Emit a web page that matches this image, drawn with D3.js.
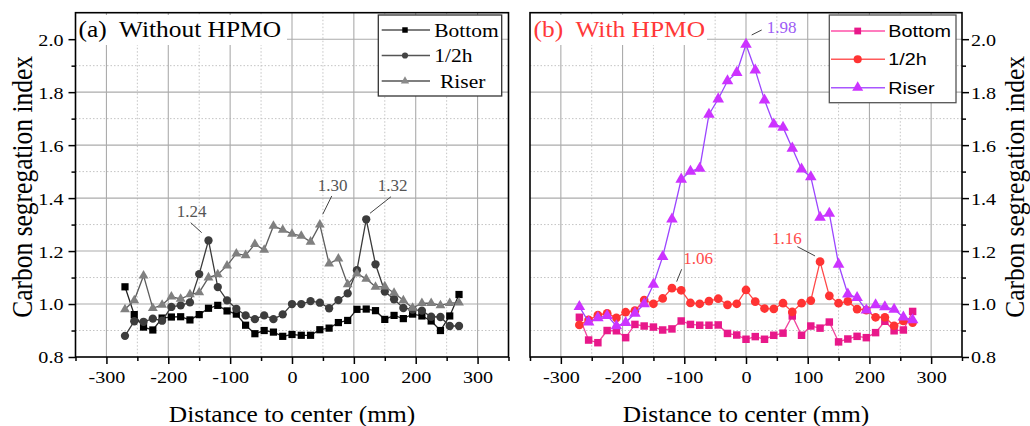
<!DOCTYPE html>
<html>
<head>
<meta charset="utf-8">
<script src="https://cdn.jsdelivr.net/npm/d3@7"></script>
<style>
  body { margin: 0; background: #fff; }
  svg { display: block; }
</style>
</head>
<body>
<svg id="chart" width="1030" height="426"></svg>
<script>
// Measurement positions across the ingot (mm from the centre line)
const distance = [-270,-255,-240,-225,-210,-195,-180,-165,-150,-135,-120,-105,-90,-75,-60,-45,-30,-15,
                  0,15,30,45,60,75,90,105,120,135,150,165,180,195,210,225,240,255,270];

// (a) Without HPMO
const bottomA = [1.065,0.960,0.913,0.902,0.947,0.951,0.952,0.940,0.960,0.984,0.995,0.974,0.962,0.920,0.888,0.900,0.894,0.878,
                 0.885,0.882,0.882,0.903,0.909,0.930,0.938,0.980,0.981,0.975,0.942,0.957,0.945,0.962,0.955,0.936,0.900,0.955,1.036];
const halfA   = [0.880,0.935,0.933,0.945,0.937,0.989,0.995,1.006,1.113,1.240,1.064,1.014,0.982,0.957,0.943,0.957,0.943,0.961,
                 1.000,1.000,1.011,1.005,0.984,1.015,1.040,1.128,1.320,1.150,1.047,1.018,0.985,0.979,0.975,0.952,0.951,0.917,0.917];
const riserA  = [0.980,1.014,1.107,0.984,0.997,1.028,1.019,1.036,1.044,1.100,1.112,1.145,1.190,1.184,1.226,1.204,1.295,1.280,
                 1.265,1.257,1.235,1.300,1.152,1.171,1.074,1.115,1.095,1.065,1.066,1.042,1.014,0.985,1.003,1.003,0.995,1.003,1.005];

// (b) With HPMO
const bottomB = [0.950,0.864,0.854,0.900,0.899,0.873,0.923,0.917,0.913,0.902,0.906,0.936,0.923,0.920,0.920,0.921,0.889,0.883,
                 0.867,0.877,0.867,0.882,0.890,0.955,0.882,0.917,0.909,0.932,0.857,0.868,0.878,0.873,0.892,0.935,0.899,0.902,0.972];
const halfB   = [0.921,0.940,0.958,0.965,0.948,0.969,0.975,1.015,1.001,1.021,1.060,1.052,1.004,1.001,1.011,1.020,0.997,1.001,
                 1.053,1.009,0.983,0.982,1.003,0.970,1.003,1.013,1.160,1.031,1.003,1.010,0.981,0.977,0.950,0.950,0.918,0.936,0.930];
const riserB  = [0.990,0.932,0.948,0.956,0.917,0.930,0.965,1.000,1.074,1.179,1.320,1.471,1.501,1.512,1.716,1.774,1.842,1.874,
                 1.980,1.883,1.770,1.679,1.667,1.588,1.509,1.480,1.327,1.342,1.150,1.037,1.024,0.977,0.997,0.989,0.980,0.950,0.940];

const seriesNames = ["Bottom", "1/2h", "Riser"];
const xTicks = [-300,-200,-100,0,100,200,300];
const xMinor = [-350,-250,-150,-50,50,150,250,350];
const yTicks = [0.8,1.0,1.2,1.4,1.6,1.8,2.0];
const yMinor = [0.9,1.1,1.3,1.5,1.7,1.9];

const SERIF = "'Liberation Serif','Times New Roman',Times,serif";
const SANS = "'Liberation Sans',Arial,Helvetica,sans-serif";
const SX = 1.13;          // horizontal glyph widening used throughout the figure
const TOP = 12.7, BASE = 357;

const svg = d3.select("#chart");

const panels = [
  {
    x0: 75.5, x1: 508.5, axisSide: "left",
    title: "(a)  Without HPMO", titleColor: "#000", titleBox: [76, 287],
    series: [
      { name: seriesNames[0], values: bottomA, symbol: d3.symbolSquare,   size: 52, fill: "#000000", line: "#222222" },
      { name: seriesNames[1], values: halfA,   symbol: d3.symbolCircle,   size: 54, fill: "#3c3c3c", line: "#3a3a3a" },
      { name: seriesNames[2], values: riserA,  symbol: d3.symbolTriangle, size: 42, fill: "#808080", line: "#5e5e5e" }
    ],
    legend: { box: [378.3, 15, 123.4, 81], rows: [30, 55.5, 81], base: [36.7, 62.3, 88.3],
              lineX: [381.7, 430], markX: 405, textX: [434.3, 434.3, 440],
              font: SERIF, size: 19, sx: SX, stroke: "#333", lineColors: ["#555","#555","#555"],
              marks: [{s: d3.symbolSquare, a: 30, f: "#000"}, {s: d3.symbolCircle, a: 30, f: "#444"}, {s: d3.symbolTriangle, a: 30, f: "#8a8a8a"}] },
    notes: [
      { s: 1, i: 9,  label: "1.24", color: "#555", tx: -16.8, ty: -23.5, l: [-6.8, -7.8, -17.8, -17.8] },
      { s: 2, i: 21, label: "1.30", color: "#555", tx: 12.9,  ty: -33.6, l: [2.9, -10.3, 11.9, -28.6] },
      { s: 1, i: 26, label: "1.32", color: "#555", tx: 26.5,  ty: -28.3, l: [3.8, -6, 24.8, -22.6] }
    ]
  },
  {
    x0: 530, x1: 962, axisSide: "right",
    title: "(b)  With HPMO", titleColor: "#ff3838", titleBox: [531, 707],
    series: [
      { name: seriesNames[0], values: bottomB, symbol: d3.symbolSquare,   size: 56, fill: "#e8188a", line: "#f0449e" },
      { name: seriesNames[1], values: halfB,   symbol: d3.symbolCircle,   size: 60, fill: "#ff3333", line: "#ff4848" },
      { name: seriesNames[2], values: riserB,  symbol: d3.symbolTriangle, size: 58, fill: "#cc33ff", line: "#9b45ff" }
    ],
    legend: { box: [829.3, 15, 126.7, 87.7], rows: [31, 59.3, 87.7], base: [36.9, 65, 93.5],
              lineX: [831, 885], markX: 857.7, textX: [888.3, 888.3, 888.3],
              font: SANS, size: 16.5, sx: 1.2, stroke: "#555", lineColors: ["#ff50a8","#ff5a5a","#a957ff"],
              marks: [{s: d3.symbolSquare, a: 46, f: "#e8188a"}, {s: d3.symbolCircle, a: 52, f: "#ff3333"}, {s: d3.symbolTriangle, a: 52, f: "#cc33ff"}] },
    notes: [
      { s: 2, i: 18, label: "1.98", color: "#9d5cf5", tx: 35.7,  ty: -11.5, l: [5.7, -9.5, 15.7, -14.5] },
      { s: 1, i: 10, label: "1.06", color: "#ff4a4a", tx: 26.3,  ty: -24.2, l: [4.7, -6.5, 9.7, -18.9] },
      { s: 1, i: 26, label: "1.16", color: "#ff4a4a", tx: -33.3, ty: -17.7, l: [-5, -5.7, -22.7, -15] }
    ]
  }
];

function drawPanel(p) {
  const x = d3.scaleLinear().domain([-350, 350]).range([p.x0, p.x1]);
  const y = d3.scaleLinear().domain([0.8, 2.1]).range([BASE, TOP]);
  const g = svg.append("g");

  // minor (dotted) grid
  g.append("g").selectAll("line").data(xMinor.filter(v => Math.abs(v) < 350)).join("line")
    .attr("x1", d => x(d)).attr("x2", d => x(d)).attr("y1", TOP).attr("y2", BASE)
    .attr("stroke", "#c4c4c4").attr("stroke-width", 1).attr("stroke-dasharray", "1.5,2");
  g.append("g").selectAll("line").data(yMinor).join("line")
    .attr("x1", p.x0).attr("x2", p.x1).attr("y1", d => y(d)).attr("y2", d => y(d))
    .attr("stroke", "#c4c4c4").attr("stroke-width", 1).attr("stroke-dasharray", "1.5,2");
  // major grid
  g.append("g").selectAll("line").data(xTicks).join("line")
    .attr("x1", d => x(d)).attr("x2", d => x(d)).attr("y1", TOP).attr("y2", BASE)
    .attr("stroke", "#ababab").attr("stroke-width", 1.1);
  g.append("g").selectAll("line").data(yTicks.filter(v => v > 0.8)).join("line")
    .attr("x1", p.x0).attr("x2", p.x1).attr("y1", d => y(d)).attr("y2", d => y(d))
    .attr("stroke", "#ababab").attr("stroke-width", 1.1);

  // panel title on a white label box
  g.append("rect").attr("x", p.titleBox[0]).attr("y", 15)
    .attr("width", p.titleBox[1] - p.titleBox[0]).attr("height", 30).attr("fill", "#fff");
  g.append("text").attr("transform", `translate(${p.titleBox[0] + 2.5},37.3) scale(${SX},1)`)
    .attr("xml:space", "preserve").style("white-space", "pre")
    .style("font-family", SERIF).style("font-size", "22.5px").attr("fill", p.titleColor)
    .text(p.title);

  // bottom axis
  const xAxis = g.append("g").attr("transform", `translate(0,${BASE})`)
    .call(d3.axisBottom(x).tickValues(xTicks).tickSize(7).tickFormat(d => String(d)));
  g.append("g").attr("transform", `translate(0,${BASE})`)
    .call(d3.axisBottom(x).tickValues(xMinor).tickSize(4).tickFormat(""))
    .call(a => a.select(".domain").remove());
  xAxis.select(".domain").remove();
  xAxis.selectAll("text").attr("y", 0).attr("dy", null)
    .attr("transform", `translate(0,25.7) scale(1.15,1)`);

  // value axis
  const leftSide = p.axisSide === "left";
  const ax = leftSide ? d3.axisLeft(y) : d3.axisRight(y);
  const axMinor = leftSide ? d3.axisLeft(y) : d3.axisRight(y);
  const yAxis = g.append("g").attr("transform", `translate(${leftSide ? p.x0 : p.x1},0)`)
    .call(ax.tickValues(yTicks).tickSize(7).tickFormat(d3.format(".1f")));
  g.append("g").attr("transform", `translate(${leftSide ? p.x0 : p.x1},0)`)
    .call(axMinor.tickValues(yMinor).tickSize(4).tickFormat(""))
    .call(a => a.select(".domain").remove());
  yAxis.select(".domain").remove();
  yAxis.selectAll("text").attr("x", 0).attr("dy", "0.34em")
    .attr("transform", leftSide ? "translate(-12,0) scale(1.15,1)" : "translate(9,0) scale(1.15,1)");

  g.selectAll(".tick line").attr("stroke", "#000").attr("stroke-width", 1.5);
  g.selectAll(".tick text").style("font-family", SERIF).style("font-size", "17.5px").attr("fill", "#000");

  // frame
  g.append("rect").attr("x", p.x0).attr("y", TOP).attr("width", p.x1 - p.x0).attr("height", BASE - TOP)
    .attr("fill", "none").attr("stroke", "#000").attr("stroke-width", 1.6);

  // series: connecting line, then markers
  const line = d3.line().x((d, i) => x(distance[i])).y(d => y(d));
  p.series.forEach(s => {
    g.append("path").datum(s.values).attr("d", line)
      .attr("fill", "none").attr("stroke", s.line).attr("stroke-width", 1.3);
    g.append("g").selectAll("path").data(s.values).join("path")
      .attr("transform", (d, i) => `translate(${x(distance[i])},${y(d)})`)
      .attr("d", d3.symbol().type(s.symbol).size(s.size))
      .attr("fill", s.fill);
  });

  // value call-outs
  p.notes.forEach(n => {
    const px = x(distance[n.i]), py = y(p.series[n.s].values[n.i]);
    g.append("line").attr("x1", px + n.l[0]).attr("y1", py + n.l[1]).attr("x2", px + n.l[2]).attr("y2", py + n.l[3])
      .attr("stroke", "#444").attr("stroke-width", 1);
    g.append("text").attr("x", px + n.tx).attr("y", py + n.ty).attr("text-anchor", "middle")
      .style("font-family", SERIF).style("font-size", "17px").attr("fill", n.color).text(n.label);
  });

  // legend
  const L = p.legend;
  g.append("rect").attr("x", L.box[0]).attr("y", L.box[1]).attr("width", L.box[2]).attr("height", L.box[3])
    .attr("fill", "#fff").attr("stroke", L.stroke).attr("stroke-width", 1.3);
  p.series.forEach((s, k) => {
    g.append("line").attr("x1", L.lineX[0]).attr("x2", L.lineX[1]).attr("y1", L.rows[k]).attr("y2", L.rows[k])
      .attr("stroke", L.lineColors[k]).attr("stroke-width", 1.4);
    g.append("path").attr("transform", `translate(${L.markX},${L.rows[k]})`)
      .attr("d", d3.symbol().type(L.marks[k].s).size(L.marks[k].a)).attr("fill", L.marks[k].f);
    g.append("text").attr("transform", `translate(${L.textX[k]},${L.base[k]}) scale(${L.sx},1)`)
      .style("font-family", L.font).style("font-size", L.size + "px").attr("fill", "#000").text(s.name);
  });

  // axis titles
  g.append("text").attr("transform", `translate(${(p.x0 + p.x1) / 2},421.7) scale(${SX},1)`)
    .attr("text-anchor", "middle").style("font-family", SERIF).style("font-size", "22.5px")
    .attr("fill", "#000").text("Distance to center (mm)");
  const titleX = leftSide ? 31.5 : 1023.5;
  const titleSX = leftSide ? SX : 1.05;
  g.append("text").attr("transform", `translate(${titleX},${(TOP + BASE) / 2 + 2}) scale(${titleSX},1) rotate(-90)`)
    .attr("text-anchor", "middle").style("font-family", SERIF).style("font-size", "25.5px")
    .attr("fill", "#000").text("Carbon segregation index");
}

panels.forEach(drawPanel);
</script>
</body>
</html>
